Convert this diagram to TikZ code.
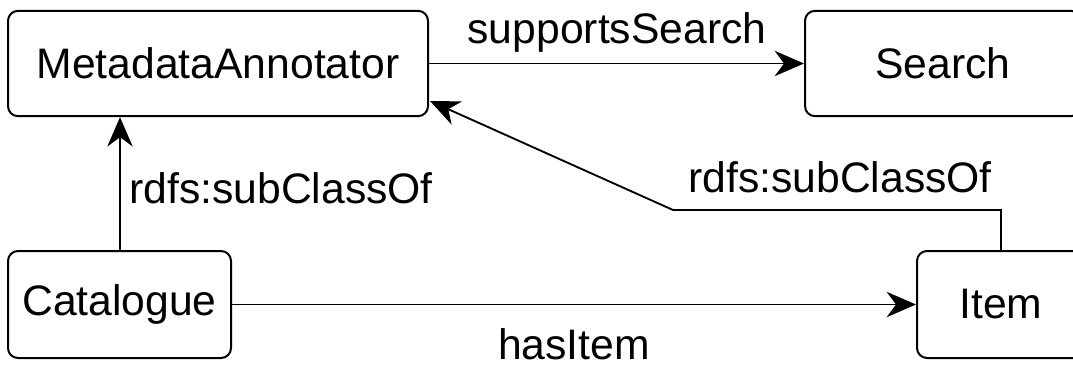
\documentclass[tikz,border=0pt]{standalone}
\usepackage{fontspec}
\setmainfont{Liberation Sans}
\usetikzlibrary{arrows.meta}
\begin{document}
\begin{tikzpicture}[x=0.75pt,y=-0.75pt,
  box/.style={draw, line width=1.5pt, rounded corners=7.5pt, minimum height=79pt, inner sep=0pt, font=\fontsize{32}{38}\selectfont},
  conn/.style={line width=1.4pt, -{Stealth[length=22pt,width=19pt,inset=7pt]}},
  lbl/.style={font=\fontsize{32}{38}\selectfont, inner sep=0pt}]
\useasboundingbox (0,0) rectangle (1073,367);
\clip (0,0) rectangle (1073,367);
\node[box, minimum width=315pt] (ma) at (218,63.5) {MetadataAnnotator};
\node[box, minimum width=207pt] (search) at (943,63.5) {Search};
\node[box, minimum width=167.25pt, minimum height=80.25pt] (cat) at (119.5,304.5) {Catalogue};
\node[box, minimum width=126pt, minimum height=80.25pt] (item) at (1001,304.5) {Item};
\coordinate (bend) at (673,210);
\coordinate (matip) at (430,101);
\draw[conn] (ma.east) -- (search.west);
\draw[conn] (cat.north -| 120,0) -- (ma.south -| 120,0);
\draw[conn] (cat.east) -- (item.west);
\draw[conn] (item.north) |- (bend) -- (matip);
\node[lbl] (l1) at (617,32) {supportsSearch};
\node[lbl] (l2) at (281,188) {rdfs:subClassOf};
\node[lbl] (l3) at (840,177) {rdfs:subClassOf};
\node[lbl] (l4) at (574,344) {hasItem};
\end{tikzpicture}
\end{document}
